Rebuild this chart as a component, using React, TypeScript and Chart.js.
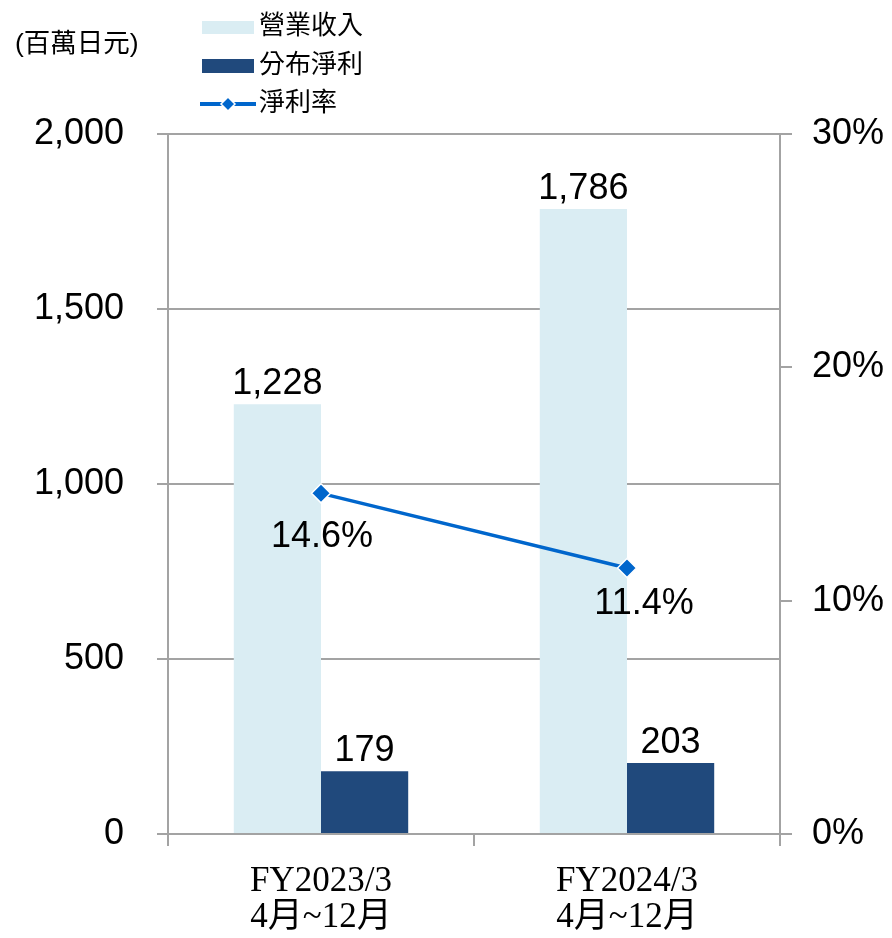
import { useEffect, useRef } from "react";
import { Chart, registerables } from "chart.js";

Chart.register(...registerables);

const categories: string[][] = [
  ["FY2023/3", "4月~12月"],
  ["FY2024/3", "4月~12月"],
];
const revenue = [1228, 1786];
const netProfit = [179, 203];
const netMargin = [14.6, 11.4];
const seriesNames = ["營業收入", "分布淨利", "淨利率"];
const unitLabel = "(百萬日元)";

const LIGHT = "#DAEDF3";
const DARK = "#20497C";
const LINE = "#0066CC";
const GRID = "#A3A3A3";
const SANS = "'Liberation Sans', Arial, 'Noto Sans CJK TC', sans-serif";
const SERIF = "'Liberation Serif', 'Times New Roman', 'Noto Sans CJK TC', serif";

const dataLabelPlugin = {
  id: "dataLabels",
  afterDatasetsDraw(chart: any) {
    const ctx = chart.ctx;
    ctx.save();
    ctx.fillStyle = "#000";
    ctx.font = `36px ${SANS}`;
    ctx.textAlign = "center";
    chart.data.datasets.forEach((ds: any, di: number) => {
      const meta = chart.getDatasetMeta(di);
      meta.data.forEach((el: any, i: number) => {
        const v = ds.data[i];
        ctx.textBaseline = "alphabetic";
        if (ds.type === "line") {
          const dx = [1, 17][i] ?? 0;
          const dy = [54, 46][i] ?? 50;
          ctx.fillText(v.toFixed(1) + "%", el.x + dx, el.y + dy);
        } else {
          ctx.fillText(v.toLocaleString("en-US"), el.x, el.y - 10);
        }
      });
    });
    ctx.restore();
  },
};

const legendPlugin = {
  id: "customLegend",
  afterDraw(chart: any) {
    const ctx = chart.ctx;
    ctx.save();
    const rows = [27.5, 66, 104];
    const sx = 202;
    const sw = 52;
    // unit label
    ctx.fillStyle = "#000";
    ctx.font = `26.5px ${SANS}`;
    ctx.textAlign = "left";
    ctx.textBaseline = "middle";
    ctx.fillText(unitLabel, 15, 45);

    // swatches
    ctx.fillStyle = LIGHT;
    ctx.fillRect(sx, rows[0] - 6.5, sw, 13);
    ctx.fillStyle = DARK;
    ctx.fillRect(sx, rows[1] - 7, sw, 14);
    ctx.strokeStyle = LINE;
    ctx.lineWidth = 4;
    ctx.beginPath();
    ctx.moveTo(sx - 2, rows[2]);
    ctx.lineTo(sx + sw + 2, rows[2]);
    ctx.stroke();
    const cx = sx + sw / 2;
    const r = 7;
    ctx.beginPath();
    ctx.moveTo(cx, rows[2] - r);
    ctx.lineTo(cx + r, rows[2]);
    ctx.lineTo(cx, rows[2] + r);
    ctx.lineTo(cx - r, rows[2]);
    ctx.closePath();
    ctx.fillStyle = LINE;
    ctx.fill();
    ctx.strokeStyle = "#fff";
    ctx.lineWidth = 1.5;
    ctx.stroke();

    ctx.fillStyle = "#000";
    ctx.font = `26px 'Noto Sans CJK TC', sans-serif`;
    ctx.textBaseline = "middle";
    seriesNames.forEach((n, i) => {
      ctx.fillText(n, 259, rows[i] - 3);
    });
    ctx.restore();
  },
};

export default function App() {
  const ref = useRef<HTMLCanvasElement | null>(null);
  useEffect(() => {
    document.body.style.margin = "0";
    if (!ref.current) return;
    const chart = new Chart(ref.current, {
      type: "bar",
      data: {
        labels: categories,
        datasets: [
          {
            type: "bar",
            label: seriesNames[0],
            data: revenue,
            backgroundColor: LIGHT,
            yAxisID: "y",
            order: 1,
            categoryPercentage: 0.57,
            barPercentage: 1,
          },
          {
            type: "bar",
            label: seriesNames[1],
            data: netProfit,
            backgroundColor: DARK,
            yAxisID: "y",
            order: 1,
            categoryPercentage: 0.57,
            barPercentage: 1,
          },
          {
            type: "line",
            label: seriesNames[2],
            data: netMargin,
            borderColor: LINE,
            backgroundColor: LINE,
            borderWidth: 3.5,
            pointStyle: "rectRot",
            pointRadius: 9.5,
            pointBorderColor: "#fff",
            pointBorderWidth: 1.5,
            pointBackgroundColor: LINE,
            yAxisID: "y1",
            order: 0,
          } as any,
        ],
      },
      options: {
        animation: false,
        responsive: false,
        layout: { padding: { top: 134, left: 0, right: 0, bottom: 0 } },
        plugins: {
          legend: { display: false },
          tooltip: { enabled: false },
        },
        scales: {
          x: {
            offset: true,
            grid: {
              offset: true,
              drawOnChartArea: false,
              drawTicks: true,
              tickLength: 12,
              color: GRID,
              lineWidth: 2,
            },
            border: { display: true, color: GRID, width: 2 },
            ticks: {
              color: "#000",
              font: { family: SERIF, size: 35, lineHeight: 1.02 },
              padding: 18,
              maxRotation: 0,
              autoSkip: false,
            },
            afterFit(scale: any) {
              scale.height = 104;
            },
          },
          y: {
            position: "left",
            min: 0,
            max: 2000,
            ticks: {
              stepSize: 500,
              color: "#000",
              font: { family: SANS, size: 36 },
              padding: 33,
              callback: (v: any) => Number(v).toLocaleString("en-US"),
            },
            grid: {
              color: GRID,
              lineWidth: 2,
              tickLength: 11,
              drawTicks: true,
            },
            border: { display: true, color: GRID, width: 2 },
            afterFit(scale: any) {
              scale.width = 168;
            },
          },
          y1: {
            position: "right",
            min: 0,
            max: 30,
            ticks: {
              stepSize: 10,
              color: "#000",
              font: { family: SANS, size: 36 },
              padding: 20,
              callback: (v: any) => v + "%",
            },
            grid: {
              drawOnChartArea: false,
              color: GRID,
              lineWidth: 2,
              tickLength: 12,
              drawTicks: true,
            },
            border: { display: true, color: GRID, width: 2 },
            afterFit(scale: any) {
              scale.width = 112;
            },
          },
        },
      },
      plugins: [dataLabelPlugin, legendPlugin],
    });
    return () => chart.destroy();
  }, []);
  return <canvas ref={ref} width={892} height={938} style={{ display: "block" }} />;
}
